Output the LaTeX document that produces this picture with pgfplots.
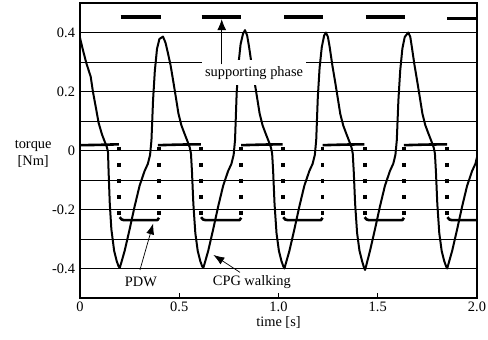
\documentclass[border=0pt]{standalone}
\usepackage{fontspec}
\setmainfont{Liberation Serif}
\usepackage{pgfplots}
\pgfplotsset{compat=1.18}
\usetikzlibrary{arrows.meta}
\begin{document}
\fontsize{14.4}{17}\selectfont
\begin{tikzpicture}
\useasboundingbox (-80pt,-42pt) rectangle (408pt,298pt);
\begin{axis}[
  scale only axis, width=397pt, height=295pt,
  xmin=0, xmax=2, ymin=-0.5, ymax=0.5,
  axis line style={line width=1.2pt},
  xtick={0,0.5,1,1.5,2}, xticklabels={0,0.5,1.0,1.5,2.0},
  ytick={-0.4,-0.2,0,0.2,0.4}, yticklabels={-0.4,-0.2,0,0.2,0.4},
  xtick pos=bottom, tick align=inside, major tick length=5pt,
  x tick style={line width=1.2pt, black},
  y tick style={draw=none},
  xticklabel style={yshift=1pt},
  /pgf/number format/assume math mode=true,
  xlabel={time [s]},
  xlabel style={at={(axis description cs:0.5,-0.082)}, anchor=center},
  ylabel={torque\\{}[Nm]},
  ylabel style={rotate=-90, align=center, at={(axis description cs:-0.118,0.49)}, anchor=center},
]
% grid lines
\addplot[black, line width=0.6pt, forget plot] coordinates {(0,0.4) (2,0.4)};
\addplot[black, line width=0.6pt, forget plot] coordinates {(0,0.3) (2,0.3)};
\addplot[black, line width=0.6pt, forget plot] coordinates {(0,0.2) (2,0.2)};
\addplot[black, line width=0.6pt, forget plot] coordinates {(0,0.1) (2,0.1)};
\addplot[black, line width=0.6pt, forget plot] coordinates {(0,0) (2,0)};
\addplot[black, line width=0.6pt, forget plot] coordinates {(0,-0.1) (2,-0.1)};
\addplot[black, line width=0.6pt, forget plot] coordinates {(0,-0.2) (2,-0.2)};
\addplot[black, line width=0.6pt, forget plot] coordinates {(0,-0.3) (2,-0.3)};
\addplot[black, line width=0.6pt, forget plot] coordinates {(0,-0.4) (2,-0.4)};

% supporting phase bars
\addplot[black, line width=3.5pt] coordinates {(0.205,0.452) (0.408,0.452)};
\addplot[black, line width=3.5pt] coordinates {(0.613,0.452) (0.81,0.452)};
\addplot[black, line width=3.5pt] coordinates {(1.03,0.452) (1.222,0.452)};
\addplot[black, line width=3.5pt] coordinates {(1.44,0.452) (1.637,0.452)};
\addplot[black, line width=3.5pt] coordinates {(1.85,0.448) (2.0,0.448)};

% PDW high segments
\addplot[black, line width=2.6pt] coordinates {(0,0.018) (0.09,0.019) (0.196,0.021)};
\addplot[black, line width=2.6pt] coordinates {(0.392,0.018) (0.5,0.02) (0.609,0.021)};
\addplot[black, line width=2.6pt] coordinates {(0.812,0.018) (0.92,0.02) (1.021,0.021)};
\addplot[black, line width=2.6pt] coordinates {(1.222,0.018) (1.33,0.02) (1.433,0.021)};
\addplot[black, line width=2.6pt] coordinates {(1.632,0.018) (1.74,0.02) (1.849,0.021)};
% PDW low segments
\addplot[black, line width=2.6pt, line join=round] coordinates {(0.2,-0.226) (0.21,-0.234) (0.222,-0.236) (0.39,-0.236) (0.398,-0.228)};
\addplot[black, line width=2.6pt, line join=round] coordinates {(0.61,-0.226) (0.62,-0.234) (0.632,-0.236) (0.804,-0.236) (0.812,-0.228)};
\addplot[black, line width=2.6pt, line join=round] coordinates {(1.024,-0.226) (1.034,-0.234) (1.046,-0.236) (1.214,-0.236) (1.222,-0.228)};
\addplot[black, line width=2.6pt, line join=round] coordinates {(1.434,-0.226) (1.444,-0.234) (1.456,-0.236) (1.624,-0.236) (1.632,-0.228)};
\addplot[black, line width=2.6pt, line join=round] coordinates {(1.851,-0.226) (1.861,-0.234) (1.873,-0.236) (2.0,-0.236)};
% PDW dotted transitions
\addplot[black, line width=3.8pt, dash pattern=on 4pt off 12pt] coordinates {(0.197,0.012) (0.197,-0.23)};
\addplot[black, line width=3.8pt, dash pattern=on 4pt off 12pt] coordinates {(0.398,0.012) (0.398,-0.23)};
\addplot[black, line width=3.8pt, dash pattern=on 4pt off 12pt] coordinates {(0.609,0.012) (0.609,-0.23)};
\addplot[black, line width=3.8pt, dash pattern=on 4pt off 12pt] coordinates {(0.812,0.012) (0.812,-0.23)};
\addplot[black, line width=3.8pt, dash pattern=on 4pt off 12pt] coordinates {(1.022,0.012) (1.022,-0.23)};
\addplot[black, line width=3.8pt, dash pattern=on 4pt off 12pt] coordinates {(1.222,0.012) (1.222,-0.23)};
\addplot[black, line width=3.8pt, dash pattern=on 4pt off 12pt] coordinates {(1.434,0.012) (1.434,-0.23)};
\addplot[black, line width=3.8pt, dash pattern=on 4pt off 12pt] coordinates {(1.632,0.012) (1.632,-0.23)};
\addplot[black, line width=3.8pt, dash pattern=on 4pt off 12pt] coordinates {(1.85,0.012) (1.85,-0.23)};

% CPG walking
\addplot[black, line width=2pt, line join=round] coordinates {
(0,0.382) (0.015,0.34) (0.032,0.296) (0.054,0.25) (0.065,0.2) (0.082,0.138) (0.094,0.093) (0.111,0.054) (0.124,0.031) (0.136,0.01) (0.141,-0.005) (0.144,-0.07) (0.15,-0.18) (0.158,-0.267) (0.172,-0.34) (0.185,-0.375) (0.194,-0.392) (0.2,-0.398)
(0.206,-0.385) (0.225,-0.34) (0.25,-0.267) (0.275,-0.19) (0.3,-0.12) (0.325,-0.07) (0.342,-0.045) (0.353,-0.015) (0.36,0.035) (0.368,0.17) (0.377,0.27) (0.388,0.345) (0.4,0.378) (0.418,0.386)
(0.431,0.365) (0.443,0.33) (0.456,0.29) (0.471,0.23) (0.483,0.18) (0.496,0.125) (0.511,0.085) (0.526,0.058) (0.541,0.032) (0.553,0.01) (0.559,-0.01) (0.564,-0.07) (0.571,-0.18) (0.581,-0.28) (0.593,-0.34) (0.606,-0.375) (0.615,-0.392) (0.621,-0.398)
(0.627,-0.385) (0.646,-0.34) (0.671,-0.267) (0.696,-0.19) (0.721,-0.12) (0.746,-0.07) (0.763,-0.045) (0.774,-0.015) (0.781,0.035) (0.789,0.19) (0.798,0.29) (0.809,0.36) (0.821,0.395) (0.831,0.408)
(0.842,0.39) (0.852,0.35) (0.865,0.29) (0.88,0.23) (0.892,0.18) (0.905,0.125) (0.92,0.085) (0.935,0.058) (0.95,0.032) (0.962,0.01) (0.968,-0.01) (0.973,-0.07) (0.98,-0.18) (0.99,-0.28) (1.002,-0.34) (1.015,-0.375) (1.024,-0.392) (1.03,-0.4)
(1.036,-0.385) (1.055,-0.34) (1.08,-0.267) (1.105,-0.19) (1.13,-0.12) (1.155,-0.07) (1.172,-0.045) (1.183,-0.015) (1.19,0.035) (1.198,0.18) (1.207,0.28) (1.218,0.35) (1.23,0.39) (1.239,0.4)
(1.249,0.385) (1.258,0.35) (1.271,0.29) (1.286,0.23) (1.298,0.18) (1.311,0.125) (1.326,0.085) (1.341,0.058) (1.356,0.032) (1.368,0.01) (1.374,-0.01) (1.379,-0.07) (1.386,-0.18) (1.396,-0.28) (1.408,-0.34) (1.421,-0.375) (1.43,-0.395) (1.436,-0.405)
(1.442,-0.39) (1.461,-0.34) (1.486,-0.267) (1.511,-0.19) (1.536,-0.12) (1.561,-0.07) (1.578,-0.045) (1.589,-0.015) (1.596,0.035) (1.604,0.17) (1.613,0.27) (1.624,0.345) (1.636,0.385) (1.654,0.4)
(1.664,0.385) (1.672,0.35) (1.685,0.29) (1.7,0.23) (1.712,0.18) (1.725,0.125) (1.74,0.085) (1.755,0.058) (1.77,0.032) (1.782,0.01) (1.788,-0.01) (1.793,-0.07) (1.8,-0.18) (1.81,-0.28) (1.822,-0.34) (1.835,-0.375) (1.844,-0.392) (1.85,-0.4)
(1.856,-0.385) (1.875,-0.34) (1.9,-0.267) (1.925,-0.19) (1.95,-0.12) (1.975,-0.07) (1.992,-0.045) (2.003,-0.015)
};

% annotations
\node[fill=white, inner sep=0pt, minimum width=104pt, minimum height=25pt] at (axis cs:0.877,0.264) {supporting phase};
\draw[-{Latex[length=11pt,width=9pt]}, line width=0.7pt] (axis cs:0.714,0.292) -- (axis cs:0.714,0.445);
\node at (axis cs:0.307,-0.447) {PDW};
\draw[-{Latex[length=11pt,width=8pt]}, line width=0.7pt] (axis cs:0.302,-0.405) -- (axis cs:0.369,-0.247);
\node at (axis cs:0.866,-0.447) {CPG walking};
\draw[-{Latex[length=11pt,width=8pt]}, line width=0.7pt] (axis cs:0.806,-0.413) -- (axis cs:0.672,-0.354);
\end{axis}
\end{tikzpicture}
\end{document}
